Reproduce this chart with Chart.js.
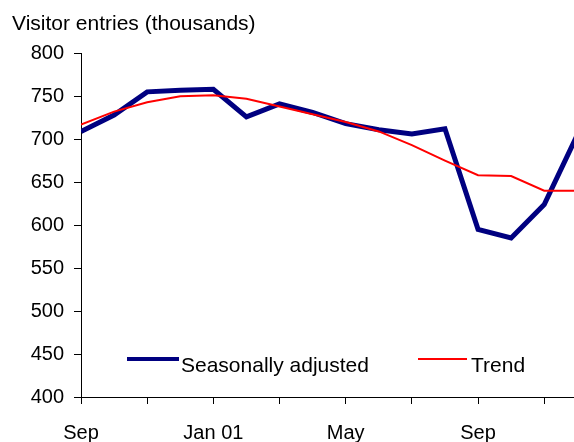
<!DOCTYPE html>
<html>
<head>
<meta charset="utf-8">
<script src="https://cdn.jsdelivr.net/npm/chart.js@4.4.1/dist/chart.umd.min.js"></script>
<style>
  html, body { margin: 0; padding: 0; background: #fff; }
  #wrap { width: 574px; height: 442px; }
</style>
</head>
<body>
<div id="wrap"><canvas id="c" width="574" height="442"></canvas></div>
<script>
// Months from Sep 2000 to Dec 2001
const months = ['Sep','Oct','Nov','Dec','Jan','Feb','Mar','Apr','May','Jun','Jul','Aug','Sep','Oct','Nov','Dec'];
const seasonallyAdjusted = [709, 728, 755, 757, 758, 726, 741, 731, 718, 711, 706, 712, 595, 585, 624, 705];
const trend = [717, 732, 743, 750, 751, 747, 738, 729, 720, 709, 693, 675, 658, 657, 640, 640];
// x tick labels (by month index)
const xTickLabels = {0: 'Sep', 4: 'Jan 01', 8: 'May', 12: 'Sep'};
const xTickIndices = [0, 2, 4, 6, 8, 10, 12, 14];
const yTicks = [400, 450, 500, 550, 600, 650, 700, 750, 800];
const titleText = 'Visitor entries (thousands)';
const seriesNames = ['Seasonally adjusted', 'Trend'];

const FONT = "'Liberation Sans', Arial, sans-serif";
Chart.defaults.color = '#000';
Chart.defaults.font.family = FONT;

const toPoints = arr => arr.map((v, i) => ({x: i, y: v}));

const legendPlugin = {
  id: 'insideLegend',
  afterDraw(chart) {
    const ctx = chart.ctx;
    const a = chart.chartArea;
    const ly = a.bottom - 38;
    ctx.save();
    ctx.font = '21px ' + FONT;
    ctx.fillStyle = '#000';
    ctx.textBaseline = 'alphabetic';
    ctx.lineCap = 'butt';
    // item 1
    ctx.strokeStyle = '#000080';
    ctx.lineWidth = 4;
    ctx.beginPath(); ctx.moveTo(a.left + 46, ly); ctx.lineTo(a.left + 98, ly); ctx.stroke();
    ctx.fillText(seriesNames[0], a.left + 100, a.bottom - 25);
    // item 2
    ctx.strokeStyle = '#ff0000';
    ctx.lineWidth = 2;
    ctx.beginPath(); ctx.moveTo(a.left + 337, ly); ctx.lineTo(a.left + 386, ly); ctx.stroke();
    ctx.fillText(seriesNames[1], a.left + 390, a.bottom - 25);
    ctx.restore();
  }
};

new Chart(document.getElementById('c'), {
  type: 'line',
  data: {
    datasets: [
      {
        label: seriesNames[0],
        data: toPoints(seasonallyAdjusted),
        borderColor: '#000080',
        borderWidth: 5,
        pointRadius: 0,
        tension: 0,
        borderJoinStyle: 'miter',
        order: 2
      },
      {
        label: seriesNames[1],
        data: toPoints(trend),
        borderColor: '#ff0000',
        borderWidth: 2,
        pointRadius: 0,
        tension: 0,
        order: 1
      }
    ]
  },
  options: {
    responsive: false,
    animation: false,
    layout: { padding: { left: 12, right: 0, top: 0, bottom: -20 } },
    plugins: {
      legend: { display: false },
      tooltip: { enabled: false },
      title: {
        display: true,
        text: titleText,
        align: 'start',
        color: '#000',
        font: { size: 21, weight: 'normal', family: FONT },
        padding: { top: 12, bottom: 16 }
      }
    },
    scales: {
      x: {
        type: 'linear',
        min: 0,
        max: 14.9,
        afterBuildTicks: s => { s.ticks = xTickIndices.map(v => ({value: v})); },
        grid: { drawOnChartArea: false, drawTicks: true, tickLength: 7, color: '#000', lineWidth: 1 },
        border: { display: true, color: '#000', width: 1 },
        ticks: {
          autoSkip: false,
          maxRotation: 0,
          padding: 17,
          font: { size: 20, family: FONT },
          color: '#000',
          callback: v => xTickLabels[v] || ''
        }
      },
      y: {
        min: 400,
        max: 800,
        afterBuildTicks: s => { s.ticks = yTicks.map(v => ({value: v})); },
        afterFit: s => { s.width = 69; },
        grid: { drawOnChartArea: false, drawTicks: true, tickLength: 7, color: '#000', lineWidth: 1 },
        border: { display: true, color: '#000', width: 1 },
        ticks: {
          padding: 10,
          font: { size: 20, family: FONT },
          color: '#000'
        }
      }
    }
  },
  plugins: [legendPlugin]
});
</script>
</body>
</html>
